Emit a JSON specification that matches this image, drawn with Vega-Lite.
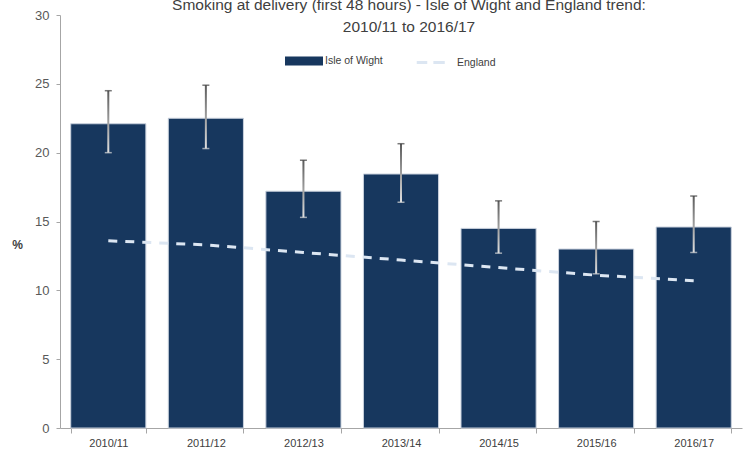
{
  "$schema": "https://vega.github.io/schema/vega-lite/v6.json",
  "width": 682,
  "height": 413,
  "autosize": {"type": "none"},
  "padding": {"left": 60, "top": 15, "right": 3, "bottom": 25},
  "background": "white",
  "title": {
    "text": ["Smoking at delivery (first 48 hours) - Isle of Wight and England trend:", "2010/11 to 2016/17"],
    "anchor": "middle",
    "font": "Liberation Sans",
    "fontSize": 15.5,
    "fontWeight": "normal",
    "color": "#404040",
    "lineHeight": 22,
    "offset": 0,
    "dy": 26,
    "dx": 8
  },
  "data": {
    "values": [
      {"period": "2010/11", "iow": 22.1, "lo": 20.0, "hi": 24.5, "england": 13.6},
      {"period": "2011/12", "iow": 22.5, "lo": 20.3, "hi": 24.9, "england": 13.3},
      {"period": "2012/13", "iow": 17.2, "lo": 15.3, "hi": 19.45, "england": 12.75},
      {"period": "2013/14", "iow": 18.45, "lo": 16.4, "hi": 20.65, "england": 12.2},
      {"period": "2014/15", "iow": 14.5, "lo": 12.7, "hi": 16.5, "england": 11.65},
      {"period": "2015/16", "iow": 13.0, "lo": 11.2, "hi": 15.0, "england": 11.1},
      {"period": "2016/17", "iow": 14.6, "lo": 12.75, "hi": 16.85, "england": 10.7}
    ]
  },
  "encoding": {
    "x": {
      "field": "period",
      "type": "nominal",
      "sort": null,
      "scale": {"paddingInner": 0.23, "paddingOuter": 0.11},
      "axis": {
        "title": null,
        "labelAngle": 0,
        "labelFont": "Liberation Sans",
        "labelFontSize": 11,
        "labelColor": "#404040",
        "domainColor": "#a6a6a6",
        "tickColor": "#a6a6a6",
        "tickSize": 5,
        "tickBand": "extent",
        "labelPadding": 4
      }
    }
  },
  "layer": [
    {
      "mark": {"type": "bar", "stroke": "#c9d1dd", "strokeWidth": 1},
      "encoding": {
        "y": {
          "field": "iow",
          "type": "quantitative",
          "scale": {"domain": [0, 30], "nice": false},
          "axis": {
            "values": [0, 5, 10, 15, 20, 25, 30],
            "grid": false,
            "domainColor": "#a6a6a6",
            "tickColor": "#a6a6a6",
            "tickSize": 4,
            "labelPadding": 7,
            "labelFont": "Liberation Sans",
            "labelFontSize": 13,
            "labelColor": "#595959",
            "title": "%",
            "titleAngle": 0,
            "titleX": -43,
            "titleY": 229,
            "titleAlign": "center",
            "titleBaseline": "middle",
            "titleFont": "Liberation Sans",
            "titleFontSize": 12,
            "titleFontWeight": "bold",
            "titleColor": "#404040"
          }
        },
        "color": {
          "datum": "Isle of Wight",
          "scale": {"domain": ["Isle of Wight", "England"], "range": ["#17375e", "#dce6f2"]},
          "legend": {
            "title": null,
            "orient": "none",
            "direction": "horizontal",
            "legendX": 225,
            "legendY": 27,
            "padding": 0,
            "symbolSize": 1225,
            "labelOffset": 2,
            "columnPadding": 27,
            "labelFont": "Liberation Sans",
            "labelFontSize": 10.5,
            "labelColor": "#404040",
            "encode": {
              "symbols": {
                "update": {
                  "shape": {"signal": "datum.value === 'England' ? 'M-1.1,0H-0.5M-0.15,0H0.5' : 'M-1,-0.17H1V0.17H-1Z'"},
                  "fill": {"signal": "datum.value === 'England' ? 'transparent' : '#17375e'"},
                  "stroke": {"signal": "datum.value === 'England' ? '#dce6f2' : 'transparent'"},
                  "strokeWidth": {"value": 3},
                  "opacity": {"value": 1}
                }
              }
            }
          }
        }
      }
    },
    {
      "mark": {
        "type": "bar",
        "width": 2,
        "color": {
          "gradient": "linear",
          "x1": 0, "y1": 0, "x2": 0, "y2": 1,
          "stops": [
            {"offset": 0, "color": "#5a5a5a"},
            {"offset": 1, "color": "#e0e0e0"}
          ]
        }
      },
      "encoding": {
        "y": {"field": "hi", "type": "quantitative"},
        "y2": {"field": "lo"}
      }
    },
    {
      "mark": {"type": "tick", "color": "#404040", "size": 7, "thickness": 1.5},
      "encoding": {"y": {"field": "hi", "type": "quantitative"}}
    },
    {
      "mark": {"type": "tick", "color": "#d9d9d9", "size": 7, "thickness": 1.5},
      "encoding": {"y": {"field": "lo", "type": "quantitative"}}
    },
    {
      "mark": {"type": "line", "strokeDash": [9, 8], "strokeWidth": 3},
      "encoding": {
        "y": {"field": "england", "type": "quantitative"},
        "color": {
          "datum": "England",
          "legend": {
            "title": null,
            "orient": "none",
            "direction": "horizontal",
            "legendX": 225,
            "legendY": 27,
            "padding": 0,
            "symbolSize": 1225,
            "labelOffset": 2,
            "columnPadding": 27,
            "labelFont": "Liberation Sans",
            "labelFontSize": 10.5,
            "labelColor": "#404040",
            "encode": {
              "symbols": {
                "update": {
                  "shape": {"signal": "datum.value === 'England' ? 'M-1.1,0H-0.5M-0.15,0H0.5' : 'M-1,-0.17H1V0.17H-1Z'"},
                  "fill": {"signal": "datum.value === 'England' ? 'transparent' : '#17375e'"},
                  "stroke": {"signal": "datum.value === 'England' ? '#dce6f2' : 'transparent'"},
                  "strokeWidth": {"value": 3},
                  "opacity": {"value": 1}
                }
              }
            }
          }
        }
      }
    }
  ],
  "config": {
    "view": {"stroke": null},
    "legend": {"padding": 0}
  }
}
